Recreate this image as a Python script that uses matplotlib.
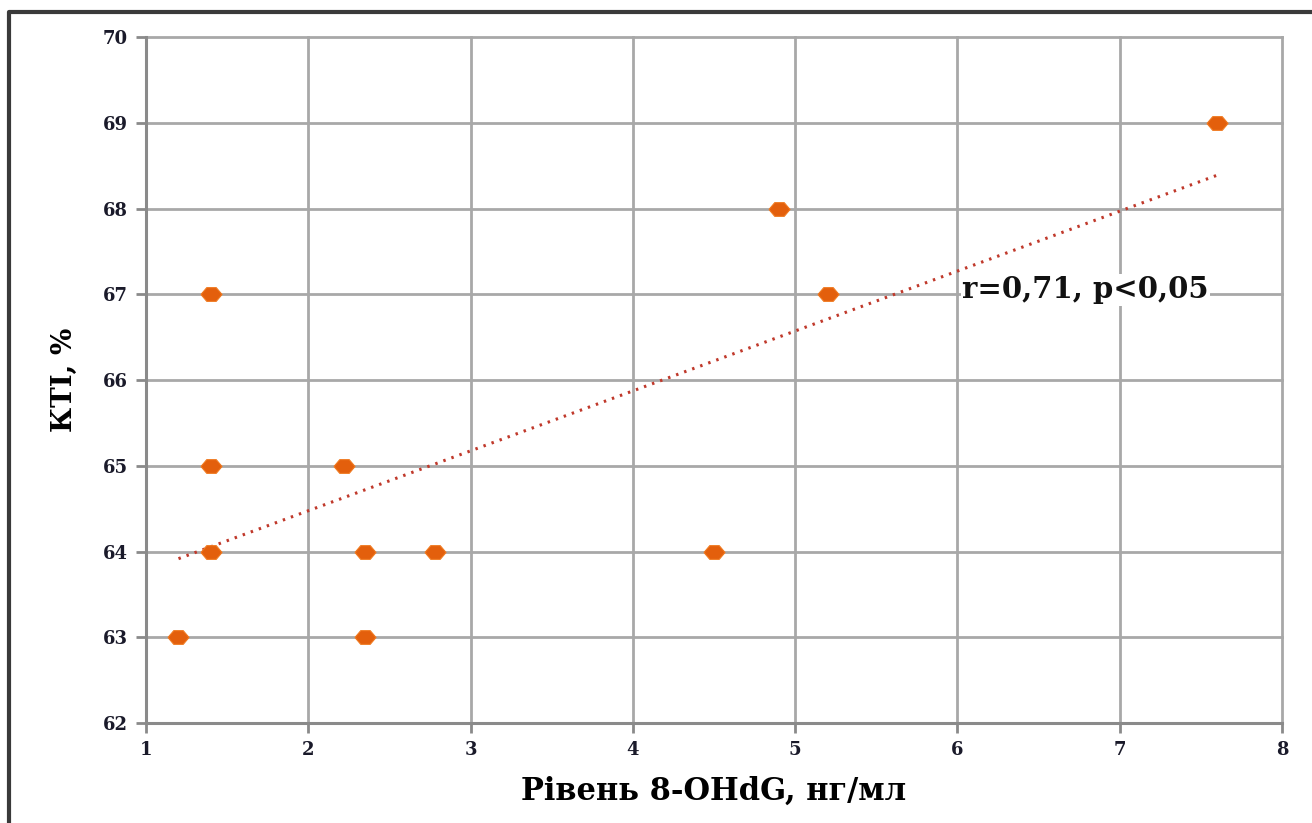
'''
Залежність КТІ від рівня 8-OHdG (діаграма розсіювання з лінією тренду)
'''
import numpy as np
import matplotlib
matplotlib.use('Agg')
import matplotlib.pyplot as plt
from matplotlib.lines import Line2D

# дані
ohdg = [1.2, 1.4, 1.4, 1.4, 2.22, 2.35, 2.35, 2.78, 4.5, 4.9, 5.2, 7.6]
kti = [63, 64, 65, 67, 65, 64, 63, 64, 64, 68, 67, 69]
x_ticks = [1, 2, 3, 4, 5, 6, 7, 8]
y_ticks = [62, 63, 64, 65, 66, 67, 68, 69, 70]
stat_text = 'r=0,71, p<0,05'

plt.rcParams['font.family'] = ['DejaVu Serif']

fig = plt.figure(figsize=(13.12, 8.23), dpi=100)
ax = fig.add_axes([0.1113, 0.1215, 0.8659, 0.8335])

# лінія тренду (МНК)
k, b = np.polyfit(ohdg, kti, 1)
xs = np.array([min(ohdg), max(ohdg)])
ax.plot(xs, k * xs + b, color='#c0392b', lw=2.2, linestyle=(0, (0.8, 2.0)), zorder=3)

# маркер у формі сплюснутого шестикутника
verts = [(-1, 0), (-0.45, 0.65), (0.45, 0.65), (1, 0), (0.45, -0.65), (-0.45, -0.65), (-1, 0)]
ax.scatter(ohdg, kti, marker=verts, s=230, color='#e35f0c', edgecolors='#f07a20',
           linewidths=0.8, zorder=4)

ax.set_xlim(1, 8)
ax.set_ylim(62, 70)
ax.set_xticks(x_ticks)
ax.set_yticks(y_ticks)
ax.grid(True, color='#a8a8a8', lw=2)
for gl in ax.get_xgridlines() + ax.get_ygridlines():
    gl.set_clip_on(False)
ax.set_axisbelow(True)
for s in ['top', 'right']:
    ax.spines[s].set_visible(False)
for s in ['left', 'bottom']:
    ax.spines[s].set_color('#8a8a8a')
    ax.spines[s].set_linewidth(2.2)
ax.tick_params(colors='#8a8a8a', width=2, length=7, labelcolor='#1a1a2a', labelsize=13, pad=6)
for lab in ax.get_xticklabels() + ax.get_yticklabels():
    lab.set_fontweight('bold')

ax.set_xlabel('Рівень 8-OHdG, нг/мл', fontsize=22, fontweight='bold', labelpad=12)
ax.set_ylabel('КТІ, %', fontsize=20, fontweight='bold', labelpad=18)

ax.text(6.03, 67.05, stat_text, fontsize=21, fontweight='bold', color='#111111',
        va='center', ha='left', zorder=5,
        bbox=dict(facecolor='white', edgecolor='none', pad=1))

# рамка (верх і лівий край)
fig.add_artist(Line2D([0.007, 0.007, 1.0], [0.0, 0.985, 0.985],
                      transform=fig.transFigure, color='#3a3a3a', lw=3))

fig.savefig('out.png', dpi=100)
